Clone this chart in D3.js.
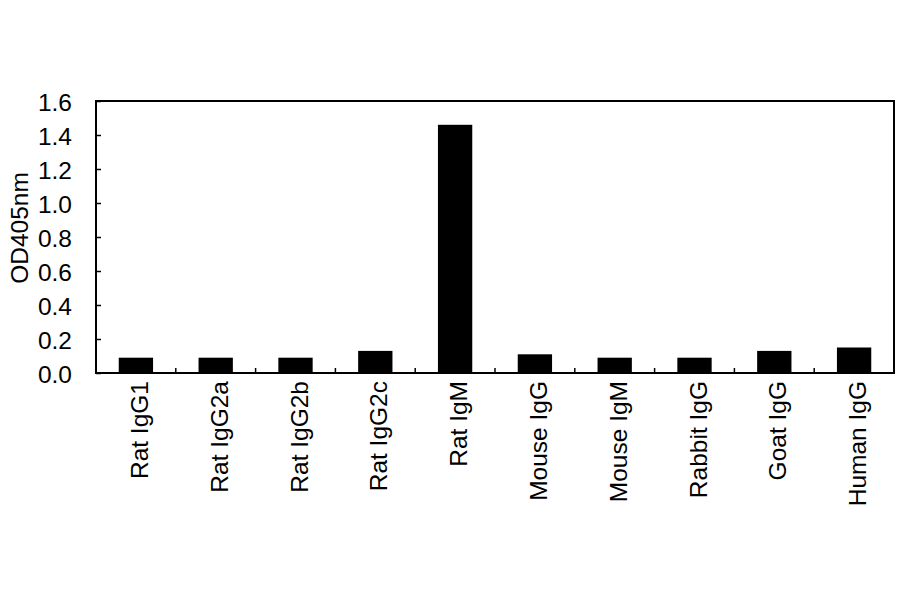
<!DOCTYPE html>
<html>
<head>
    <style>
        body { margin: 0; background: #fff; }
        text { font-family: Arial, "Liberation Sans", sans-serif; fill: #000; }
    </style>
</head>
<body>
    <div id="chart"></div>
    <script src="https://d3js.org/d3.v7.min.js"></script>
    <script>
        // values
        const categories = ["Rat IgG1", "Rat IgG2a", "Rat IgG2b", "Rat IgG2c", "Rat IgM",
            "Mouse IgG", "Mouse IgM", "Rabbit IgG", "Goat IgG", "Human IgG"];
        const od405 = [0.09, 0.09, 0.09, 0.13, 1.46, 0.11, 0.09, 0.09, 0.13, 0.15];
        const yTicks = [0, 0.2, 0.4, 0.6, 0.8, 1.0, 1.2, 1.4, 1.6];
        const yLabel = "OD405nm";

        const width = 900, height = 594;
        const margin = { top: 101, right: 6, bottom: 221, left: 96 };
        const fontSize = 24.5;

        const svg = d3.select("#chart").append("svg")
            .attr("width", width)
            .attr("height", height);

        const innerW = width - margin.left - margin.right;
        const innerH = height - margin.top - margin.bottom;

        const g = svg.append("g")
            .attr("transform", `translate(${margin.left},${margin.top})`);

        const x = d3.scaleBand()
            .domain(categories)
            .range([0, innerW])
            .paddingInner(0.57)
            .paddingOuter(0.285);

        const y = d3.scaleLinear()
            .domain([0, 1.6])
            .range([innerH, 0]);

        // bars
        g.selectAll(".bar")
            .data(categories)
            .join("rect")
            .attr("class", "bar")
            .attr("x", d => x(d))
            .attr("width", x.bandwidth())
            .attr("y", (d, i) => y(od405[i]))
            .attr("height", (d, i) => innerH - y(od405[i]))
            .attr("fill", "#000");

        // y axis, ticks point inward
        const yAxis = g.append("g")
            .call(d3.axisLeft(y).tickValues(yTicks).tickSizeInner(-5).tickSizeOuter(0).tickPadding(24)
                .tickFormat(d3.format(".1f")));
        yAxis.select(".domain").remove();
        yAxis.selectAll(".tick line").attr("stroke", "#000").attr("stroke-width", 1.5);
        yAxis.selectAll(".tick text")
            .style("font-size", fontSize + "px")
            .attr("dy", "0.4em");

        // category boundary ticks on the bottom edge
        const step = x.step();
        const boundaries = d3.range(1, categories.length).map(i => x(categories[i]) - x.paddingInner() * step / 2);
        g.selectAll(".xtick")
            .data(boundaries)
            .join("line")
            .attr("class", "xtick")
            .attr("x1", d => d).attr("x2", d => d)
            .attr("y1", innerH).attr("y2", innerH - 5)
            .attr("stroke", "#000")
            .attr("stroke-width", 1.5);

        // x labels, rotated
        g.selectAll(".xlabel")
            .data(categories)
            .join("text")
            .attr("class", "xlabel")
            .attr("text-anchor", "end")
            .style("font-size", fontSize + "px")
            .attr("transform", d => `translate(${x(d) + x.bandwidth() / 2 + 12},${innerH + 8}) rotate(-90)`)
            .text(d => d);

        // frame
        g.append("rect")
            .attr("width", innerW)
            .attr("height", innerH)
            .attr("fill", "none")
            .attr("stroke", "#000")
            .attr("stroke-width", 2);

        // y axis title
        svg.append("text")
            .attr("text-anchor", "middle")
            .style("font-size", fontSize + "px")
            .attr("transform", `translate(28,228) rotate(-90)`)
            .text(yLabel);
    </script>
</body>
</html>
